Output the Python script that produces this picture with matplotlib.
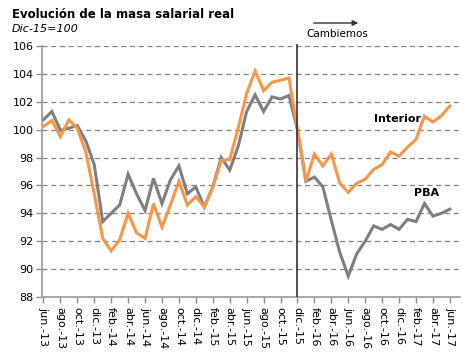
import matplotlib
matplotlib.use("Agg")
import matplotlib.pyplot as plt

months = ["jun.", "jul.", "ago.", "sep.", "oct.", "nov.", "dic.", "ene.", "feb.", "mar.", "abr.", "may."]
start_year = 13
labels = []
m_idx = 0  # jun
y = start_year
for k in range(49):
    labels.append(f"{months[m_idx]}-{y}")
    m_idx += 1
    if m_idx == 7:  # after dic -> ene, year changes
        y += 1
    if m_idx == 12:
        m_idx = 0

interior = [100.24, 100.65, 99.5, 100.7, 100.1, 98.4, 95.4, 92.2, 91.3, 92.1,
            94.0, 92.6, 92.2, 94.7, 93.0, 94.6, 96.3, 94.6, 95.2, 94.45,
            95.9, 97.8, 97.85, 100.1, 102.6, 104.2, 102.8, 103.4, 103.55, 103.7,
            100.0, 96.3, 98.25, 97.4, 98.25, 96.16, 95.5, 96.16, 96.45, 97.15,
            97.5, 98.4, 98.1, 98.75, 99.3, 100.96, 100.55, 101.0, 101.7]
pba = [100.72, 101.3, 99.95, 100.1, 100.3, 99.2, 97.5, 93.4, 94.0, 94.6,
       96.8, 95.4, 94.2, 96.5, 94.7, 96.4, 97.4, 95.4, 95.9, 94.45,
       95.9, 98.0, 97.1, 98.8, 101.3, 102.5, 101.3, 102.35, 102.2, 102.45,
       100.0, 96.3, 96.6, 95.9, 93.5, 91.2, 89.5, 91.1, 92.0, 93.1,
       92.85, 93.2, 92.85, 93.57, 93.4, 94.7, 93.8, 94.0, 94.3]
yticks = [88, 90, 92, 94, 96, 98, 100, 102, 104, 106]

W, H = 463, 355
fig = plt.figure(figsize=(W / 100, H / 100), dpi=100)
ax = fig.add_axes([42 / W, 1 - 297 / H, 418 / W, (297 - 46) / H])

x = list(range(len(labels)))
orange = "#F79646"
gray = "#7F7F7F"
ax.plot(x, pba, color=gray, lw=2.2, solid_joinstyle="miter", zorder=3)
ax.plot(x, interior, color=orange, lw=2.2, solid_joinstyle="miter", zorder=4)

ax.set_ylim(88, 106)
ax.set_xlim(-0.17, 49.2)
ax.set_yticks(yticks)
ax.set_yticklabels([str(v) for v in yticks])
ax.set_xticks(x[::2])
ax.set_xticklabels(labels[::2], rotation=-90, va="top", ha="center")
ax.tick_params(axis="both", labelsize=8, color="#8C8C8C", length=4, width=1, pad=2)
ax.tick_params(axis="x", length=4, pad=3)
ax.grid(axis="y", color="#808080", linestyle=(0, (4, 3)), lw=0.9)
ax.set_axisbelow(True)
for s in ["top", "right"]:
    ax.spines[s].set_visible(False)
for s in ["left", "bottom"]:
    ax.spines[s].set_color("#999999")
    ax.spines[s].set_linewidth(1.2)

# Vertical marker at dic-15
dic15 = labels.index("dic.-15")
ax.vlines(dic15, 88, 106.15, color="#333333", lw=1.2, clip_on=False, zorder=5)

ax.text(41.8, 100.8, "Interior", fontsize=8, fontweight="bold", ha="center", va="center")
ax.text(45.3, 95.45, "PBA", fontsize=8, fontweight="bold", ha="center", va="center")

fig.text(12 / W, 1 - 14 / H, "Evolución de la masa salarial real", fontsize=8.5,
         fontweight="bold", ha="left", va="center")
fig.text(12 / W, 1 - 29 / H, "Dic-15=100", fontsize=8, style="italic", ha="left", va="center")

fig.add_artist(matplotlib.patches.FancyArrowPatch((311 / W, 1 - 23 / H), (361 / W, 1 - 23 / H),
               transform=fig.transFigure, arrowstyle="-|>", mutation_scale=8,
               color="#333333", lw=1.0))
fig.text(337 / W, 1 - 34 / H, "Cambiemos", fontsize=7.5, ha="center", va="center")

fig.savefig("out.png", dpi=100)
